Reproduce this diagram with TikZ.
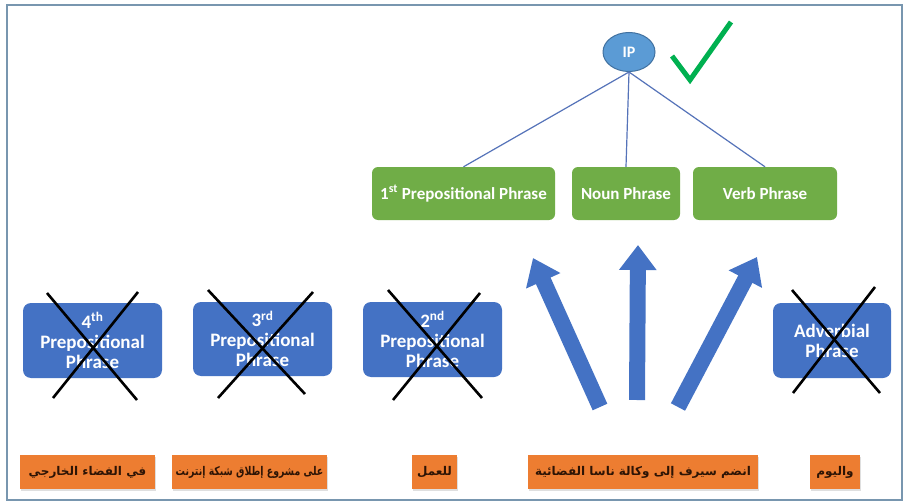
\documentclass[tikz,border=0pt]{standalone}
\usepackage{fontspec}
\usepackage{graphicx}
\setmainfont{Carlito}
\newfontfamily\arabicfont[Script=Arabic]{DejaVu Sans}
\TeXXeTstate=1
\usetikzlibrary{arrows.meta,shapes.geometric,shadows}
\definecolor{offblue}{RGB}{68,114,196}
\definecolor{ipblue}{RGB}{91,155,213}
\definecolor{ipedge}{RGB}{65,113,160}
\definecolor{offgreen}{RGB}{112,173,71}
\definecolor{checkgreen}{RGB}{0,176,80}
\definecolor{offorange}{RGB}{237,125,49}
\definecolor{linkblue}{RGB}{85,115,185}
\definecolor{framecol}{RGB}{120,150,175}
\definecolor{arabictext}{RGB}{45,20,5}
\tikzset{
  greenbox/.style={draw=none, fill=offgreen, rounded corners=6pt, inner sep=0pt,
    text=white, font=\bfseries\fontsize{17}{20}\selectfont, align=center},
  bluebox/.style={draw=none, fill=offblue, rounded corners=8pt, inner sep=0pt,
    text=white, font=\bfseries\fontsize{19}{20}\selectfont, align=center},
  orangebox/.style={draw=none, fill=offorange, inner sep=0pt, text=arabictext,
    font=\arabicfont\bfseries\fontsize{12}{14}\selectfont,
    drop shadow={opacity=0.25, shadow xshift=1pt, shadow yshift=-2pt}},
  ipnode/.style={ellipse, draw=ipedge, line width=1pt, fill=ipblue, inner sep=0pt,
    text=white, font=\bfseries\fontsize{16}{18}\selectfont},
  link/.style={draw=linkblue, line width=1.2pt},
  crossline/.style={draw=black, line width=2.6pt},
  bigarrow/.style={draw=offblue, line width=16pt, -{Triangle[width=36pt,length=25pt]}},
  tick/.style={draw=checkgreen, line width=5pt, line join=miter, line cap=butt},
}
\begin{document}
\begin{tikzpicture}[x=1pt,y=-1pt]
\useasboundingbox (0,0) rectangle (906,503);
\fill[white] (0,0) rectangle (906,503);
\draw[framecol, line width=1.5pt] (7,5) rectangle (902,500);

% top tree
\node[ipnode, minimum width=52pt, minimum height=39pt] (ip) at (629,52) {IP};
\node[greenbox, minimum width=183pt, minimum height=53pt] (pp1) at (463.5,193.5) {1\textsuperscript{st} Prepositional Phrase};
\node[greenbox, minimum width=108pt, minimum height=53pt] (np) at (626,193.5) {Noun Phrase};
\node[greenbox, minimum width=144pt, minimum height=53pt] (vp) at (765,193.5) {Verb Phrase};
\draw[link] (ip.south) -- (pp1.north);
\draw[link] (ip.south) -- (np.north);
\draw[link] (ip.south) -- (vp.north);

% check mark
\coordinate (ck1) at (672,56);
\coordinate (ck2) at (690,80);
\coordinate (ck3) at (731,22);
\draw[tick] (ck1) -- (ck2) -- (ck3);

% rejected phrases
\node[bluebox, minimum width=139pt, minimum height=75pt] (pp4) at (92.5,340.5) {4\textsuperscript{th}\\Prepositional\\Phrase};
\node[bluebox, minimum width=139pt, minimum height=74pt] (pp3) at (262.5,339) {3\textsuperscript{rd}\\Prepositional\\Phrase};
\node[bluebox, minimum width=139pt, minimum height=75pt] (pp2) at (432.5,339.5) {2\textsuperscript{nd}\\Prepositional\\Phrase};
\node[bluebox, minimum width=118pt, minimum height=75pt] (adv) at (832,340.5) {Adverbial\\Phrase};

% crosses
\draw[crossline] (47,293) -- (137,400);
\draw[crossline] (138,292) -- (53,398);
\draw[crossline] (208,290) -- (305,394);
\draw[crossline] (313,292) -- (218,398);
\draw[crossline] (388,290) -- (482,398);
\draw[crossline] (480,293) -- (393,400);
\draw[crossline] (792,290) -- (880,393);
\draw[crossline] (875,287) -- (793,393);

% big arrows
\coordinate (t1) at (600,407);
\coordinate (h1) at (533,258);
\coordinate (t2) at (637,400);
\coordinate (h2) at (638,245);
\coordinate (t3) at (678,407);
\coordinate (h3) at (757,257);
\draw[bigarrow] (t1) -- (h1);
\draw[bigarrow] (t2) -- (h2);
\draw[bigarrow] (t3) -- (h3);

% Arabic sentence parts
\node[orangebox, minimum width=135pt, minimum height=34pt] (o1) at (87.5,472) {\beginR في الفضاء الخارجي\endR};
\node[orangebox, minimum width=155pt, minimum height=34pt] (o2) at (249.5,472) {\scalebox{0.78}[1]{\beginR على مشروع إطلاق شبكة إنترنت\endR}};
\node[orangebox, minimum width=45pt, minimum height=34pt] (o3) at (434.5,472) {\beginR للعمل\endR};
\node[orangebox, minimum width=230pt, minimum height=34pt] (o4) at (643,472) {\beginR انضم سيرف إلى وكالة ناسا الفضائية\endR};
\node[orangebox, minimum width=50pt, minimum height=34pt] (o5) at (835,472) {\beginR واليوم\endR};
\end{tikzpicture}
\end{document}
